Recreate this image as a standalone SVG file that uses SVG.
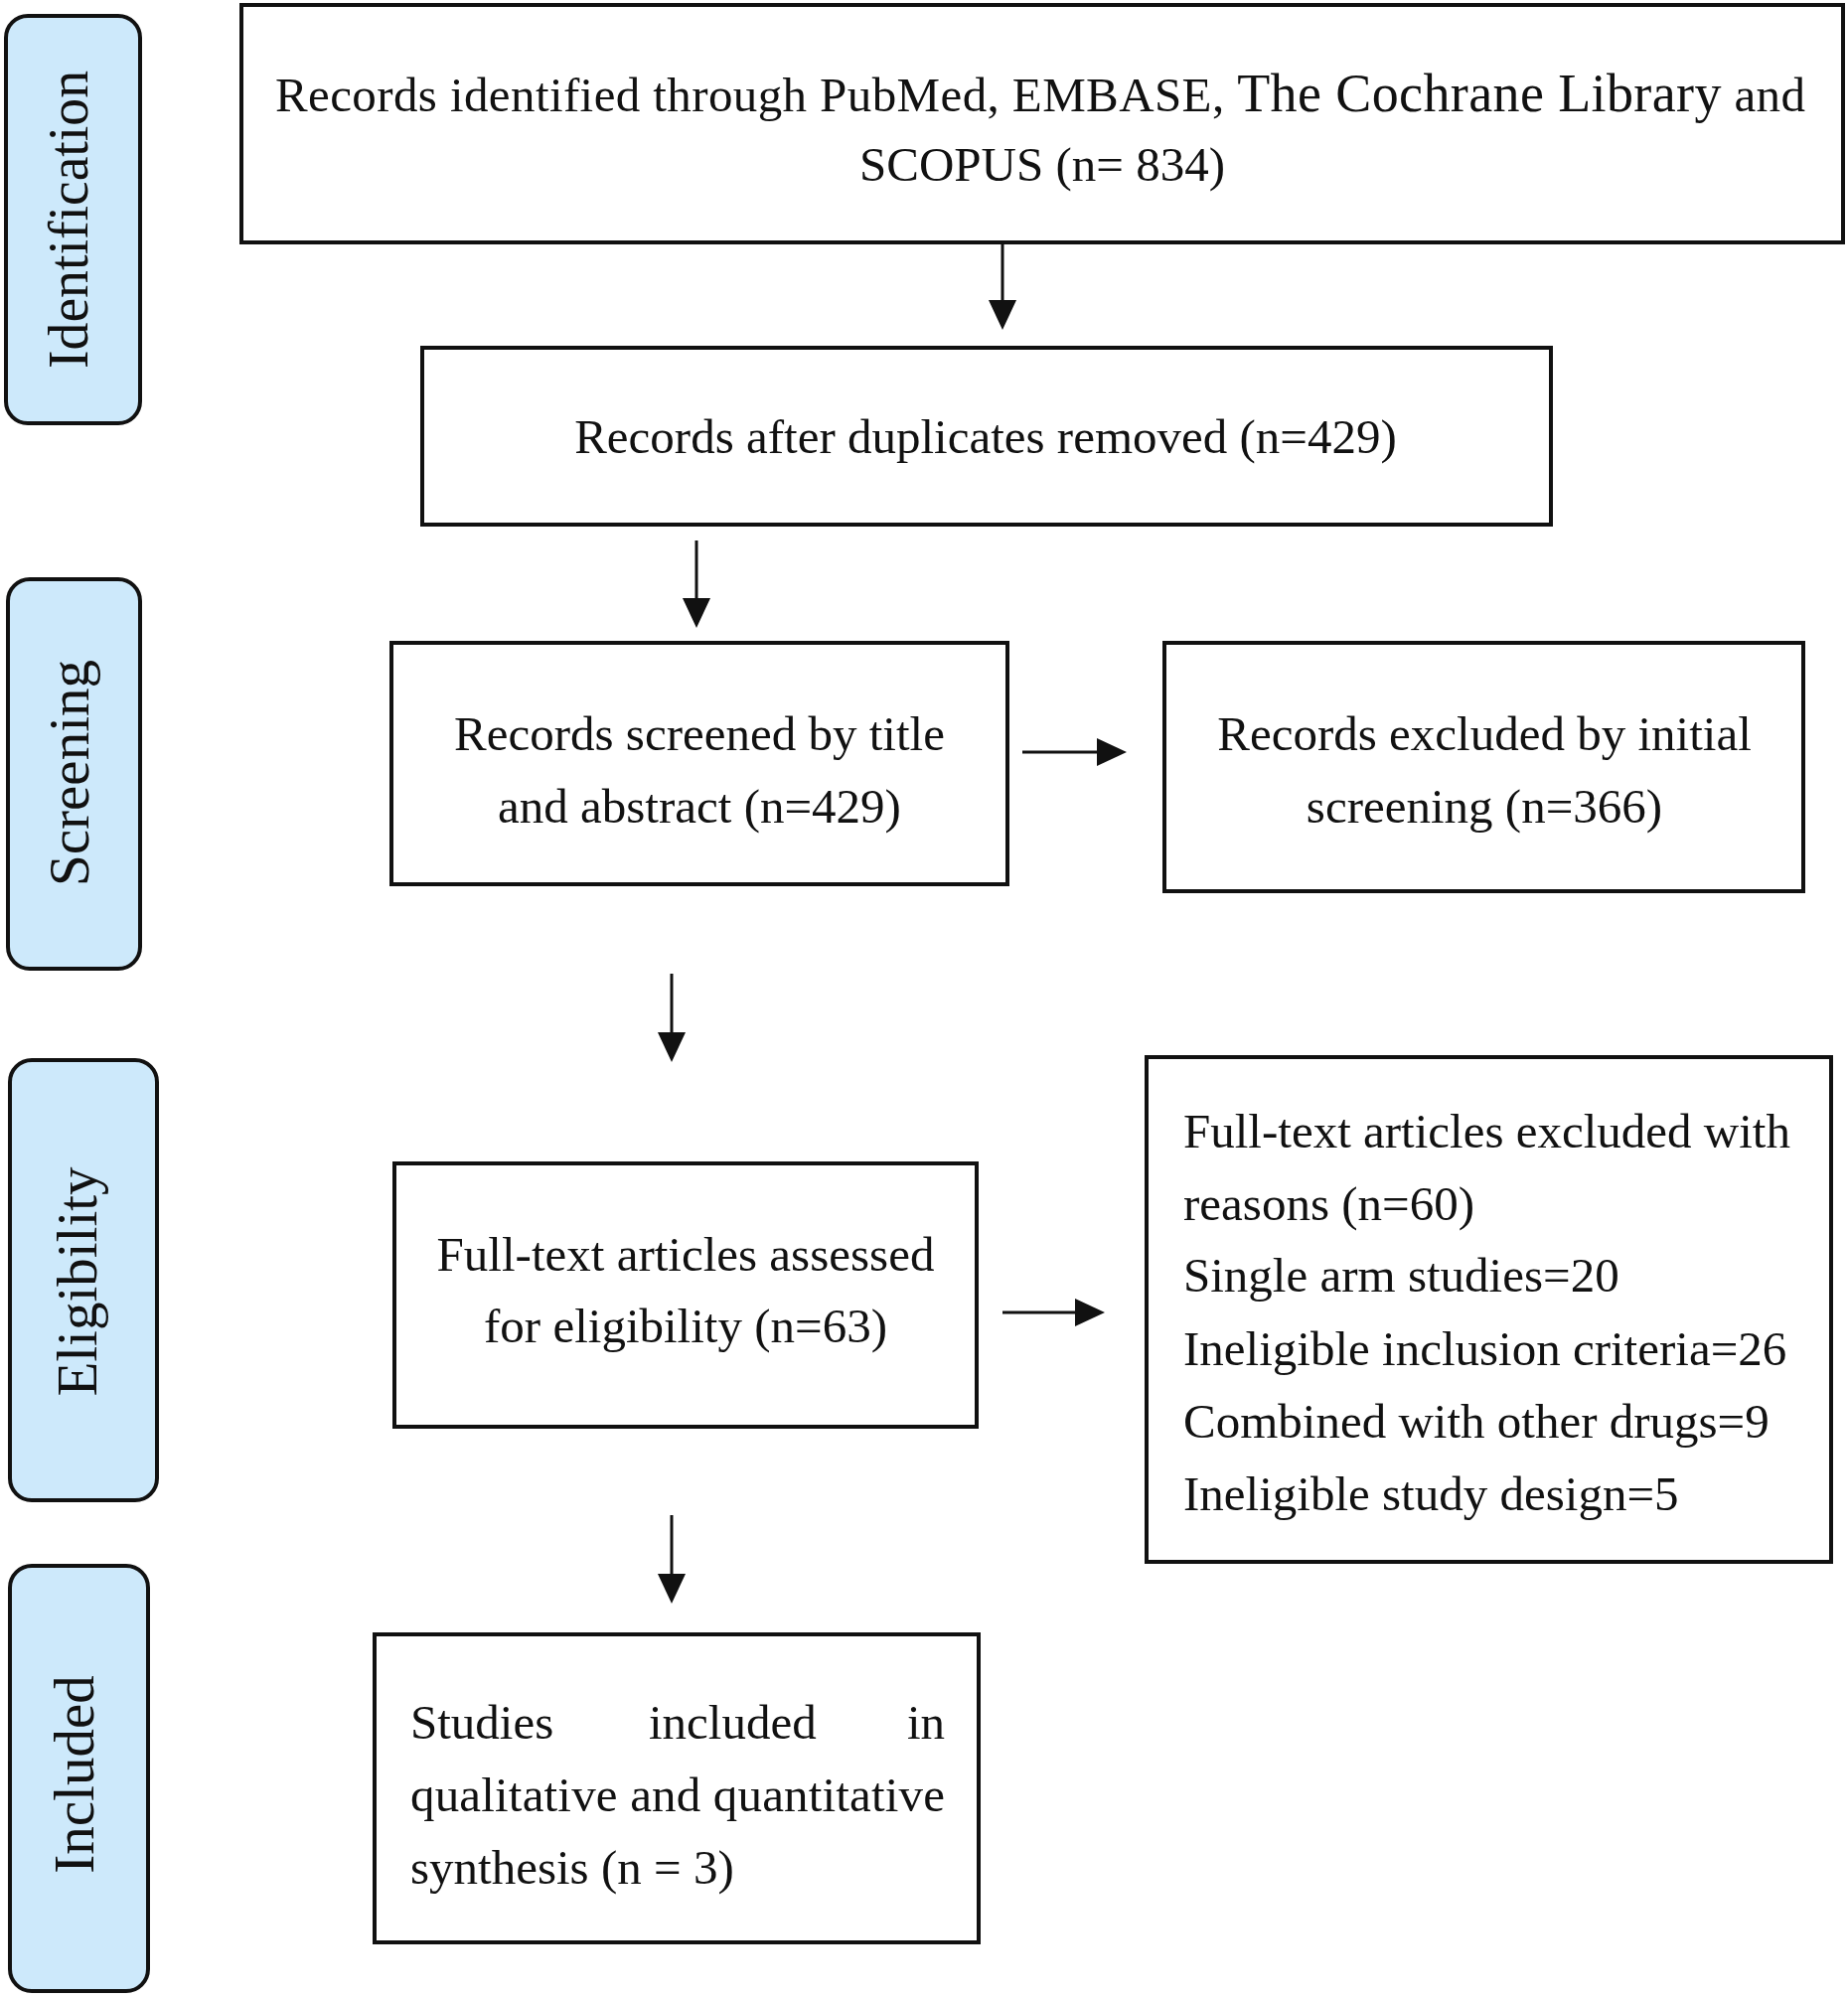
<svg xmlns="http://www.w3.org/2000/svg" width="1860" height="2012" viewBox="0 0 1860 2012">
<style>
.box{fill:#fff;stroke:#111;stroke-width:4}
.pill{fill:#cde9fb;stroke:#111;stroke-width:4}
.t{font-family:"Liberation Serif","Times New Roman",serif;font-size:49px;fill:#111}
.c{text-anchor:middle}
.ph{font-family:"Liberation Serif","Times New Roman",serif;font-size:57px;fill:#111;text-anchor:middle}
.conn{stroke:#111;stroke-width:3;fill:none;marker-end:url(#ah)}
</style>
<defs>
<marker id="ah" markerUnits="userSpaceOnUse" markerWidth="32" markerHeight="30" refX="20" refY="14" orient="auto">
<path d="M0,0 L30,14 L0,28 Z" fill="#111"/>
</marker>
</defs>
<rect width="1860" height="2012" fill="#fff"/>

<g id="phase-identification">
<rect class="pill" x="6" y="16" width="135" height="410" rx="22"/>
<text class="ph" transform="translate(88,221) rotate(-90)" textLength="300" lengthAdjust="spacingAndGlyphs">Identification</text>
</g>
<g id="phase-screening">
<rect class="pill" x="8" y="583" width="133" height="392" rx="22"/>
<text class="ph" transform="translate(89,778) rotate(-90)">Screening</text>
</g>
<g id="phase-eligibility">
<rect class="pill" x="10" y="1067" width="148" height="443" rx="22"/>
<text class="ph" transform="translate(97,1290) rotate(-90)">Eligibility</text>
</g>
<g id="phase-included">
<rect class="pill" x="10" y="1576" width="139" height="428" rx="22"/>
<text class="ph" transform="translate(94,1786) rotate(-90)">Included</text>
</g>

<g id="identified">
<rect class="box" x="243" y="5" width="1612" height="239"/>
<text class="t c" x="1047" y="112" textLength="1540">Records identified through PubMed, EMBASE, <tspan font-size="54">The Cochrane Library</tspan> and</text>
<text class="t c" x="1049" y="182">SCOPUS (n= 834)</text>
</g>
<g id="deduplicated">
<rect class="box" x="425" y="350" width="1136" height="178"/>
<text class="t c" x="992" y="456">Records after duplicates removed (n=429)</text>
</g>
<g id="screened">
<rect class="box" x="394" y="647" width="620" height="243"/>
<text class="t c" x="704" y="755">Records screened by title</text>
<text class="t c" x="704" y="828">and abstract (n=429)</text>
</g>
<g id="excluded-initial">
<rect class="box" x="1172" y="647" width="643" height="250"/>
<text class="t c" x="1494" y="755">Records excluded by initial</text>
<text class="t c" x="1494" y="828">screening (n=366)</text>
</g>
<g id="assessed">
<rect class="box" x="397" y="1171" width="586" height="265"/>
<text class="t c" x="690" y="1279">Full-text articles assessed</text>
<text class="t c" x="690" y="1351">for eligibility (n=63)</text>
</g>
<g id="excluded-fulltext">
<rect class="box" x="1154" y="1064" width="689" height="508"/>
<text class="t" x="1191" y="1155">Full-text articles excluded with</text>
<text class="t" x="1191" y="1228">reasons (n=60)</text>
<text class="t" x="1191" y="1300">Single arm studies=20</text>
<text class="t" x="1191" y="1374">Ineligible inclusion criteria=26</text>
<text class="t" x="1191" y="1447">Combined with other drugs=9</text>
<text class="t" x="1191" y="1520">Ineligible study design=5</text>
</g>
<g id="included">
<rect class="box" x="377" y="1645" width="608" height="310"/>
<text class="t" y="1750"><tspan x="413">Studies</tspan><tspan x="653">included</tspan><tspan x="951" text-anchor="end">in</tspan></text>
<text class="t" x="413" y="1823" textLength="538">qualitative and quantitative</text>
<text class="t" x="413" y="1896">synthesis (n = 3)</text>
</g>

<g id="connectors">
<line class="conn" x1="1009" y1="245" x2="1009" y2="322"/>
<line class="conn" x1="701" y1="544" x2="701" y2="622"/>
<line class="conn" x1="1029" y1="757" x2="1124" y2="757"/>
<line class="conn" x1="676" y1="980" x2="676" y2="1059"/>
<line class="conn" x1="1009" y1="1321" x2="1102" y2="1321"/>
<line class="conn" x1="676" y1="1525" x2="676" y2="1604"/>
</g>
</svg>
